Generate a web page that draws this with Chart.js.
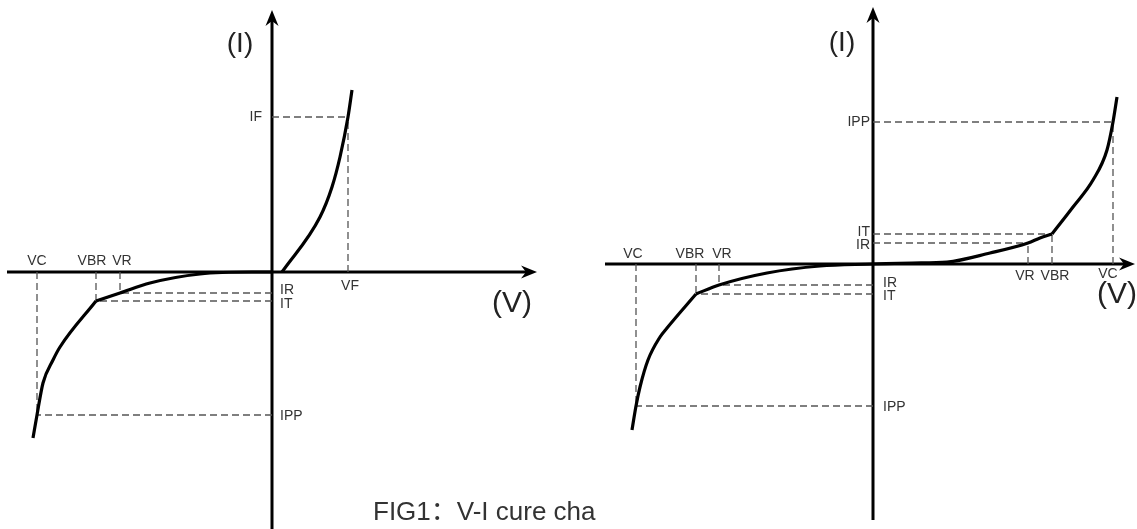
<!DOCTYPE html>
<html>
<head>
<meta charset="utf-8">
<script src="https://cdn.jsdelivr.net/npm/chart.js@4"></script>
<style>
  html, body { margin: 0; padding: 0; background: #fff; }
  #wrap { position: relative; width: 1137px; height: 529px; overflow: hidden; }
  canvas { position: absolute; top: 0; }
  #left { left: 0; }
  #right { left: 568px; }
  #caption {
    position: absolute; left: 373px; top: 498px;
    font: 26px/26px "Liberation Sans", Arial, "Noto Sans CJK SC", sans-serif;
    color: #333; white-space: nowrap;
  }
</style>
</head>
<body>
<div id="wrap">
  <canvas id="left" width="568" height="529"></canvas>
  <canvas id="right" width="569" height="529"></canvas>
  <div id="caption">FIG1：V-I cure cha</div>
</div>
<script>
// values, arbitrary units (V across, I up)

// left: unidirectional
const L_VF = 1.52, L_IF = 3.1;
const L_VC = -4.7, L_IPP = -2.86;
const L_VBR = -3.52, L_IT = -0.58;
const L_VR = -3.04, L_IR = -0.42;

const leftForward = [[0.2, 0], [0.96, 1.1], [1.2, 1.7], [1.36, 2.3], [L_VF, L_IF], [1.6, 3.64]];
const leftLeak = [[L_VBR, L_IT], [L_VR, L_IR], [-2.44, -0.22], [-1.44, -0.04], [-0.4, 0], [0, 0]];
const leftBreak = [[-4.78, -3.32], [L_VC, L_IPP], [-4.58, -2.22], [-4.38, -1.76], [-4.24, -1.5], [L_VBR, L_IT]];
const leftMarks = [[L_VF, L_IF], [L_VC, L_IPP], [L_VBR, L_IT], [L_VR, L_IR]];

// right: bidirectional
const R_VC = 4.8, R_IPP = 2.84;
const R_VBR = 3.58, R_IT = 0.6;
const R_VR = 3.1, R_IR = 0.42;
const R_NVC = -4.74, R_NIPP = -2.84;
const R_NVBR = -3.54, R_NIT = -0.6;
const R_NVR = -3.08, R_NIR = -0.42;

const rightPosLeak = [[0, 0], [0.78, 0.02], [1.48, 0.04], [2.34, 0.22], [R_VR, R_IR], [3.34, 0.52], [R_VBR, R_IT]];
const rightPosBreak = [[R_VBR, R_IT], [4.0, 1.14], [4.4, 1.68], [4.68, 2.28], [R_VC, R_IPP], [4.88, 3.34]];
const rightNegLeak = [[R_NVBR, R_NIT], [R_NVR, R_NIR], [-2.12, -0.18], [-1.06, -0.04], [0, 0]];
const rightNegBreak = [[-4.82, -3.32], [R_NVC, R_NIPP], [-4.66, -2.46], [-4.5, -1.92], [-4.26, -1.46], [-4.12, -1.28], [R_NVBR, R_NIT]];
const rightMarks = [[R_VC, R_IPP], [R_VBR, R_IT], [R_VR, R_IR], [R_NVC, R_NIPP], [R_NVBR, R_NIT], [R_NVR, R_NIR]];

const FONT = '"Liberation Sans", Arial, sans-serif';

function pts(list) {
  return list.map(p => ({ x: p[0], y: p[1] }));
}

function curve(list) {
  return {
    data: pts(list), showLine: true, pointRadius: 0, borderColor: '#000',
    borderWidth: 3.2, cubicInterpolationMode: 'monotone', fill: false, clip: false
  };
}

function dashed(a, b) {
  return {
    data: pts([a, b]), showLine: true, pointRadius: 0, borderColor: '#555',
    borderWidth: 1.3, borderDash: [7, 4], fill: false, clip: false
  };
}

function guides(marks) {
  const out = [];
  marks.forEach(m => {
    out.push(dashed([m[0], 0], m));
    out.push(dashed([0, m[1]], m));
  });
  return out;
}

function arrow(ctx, x, y, ang) {
  ctx.save();
  ctx.translate(x, y);
  ctx.rotate(ang);
  ctx.beginPath();
  ctx.moveTo(0, 0);
  ctx.lineTo(-16, -6.5);
  ctx.lineTo(-11, 0);
  ctx.lineTo(-16, 6.5);
  ctx.closePath();
  ctx.fill();
  ctx.restore();
}

const sketch = {
  id: 'sketch',
  beforeDatasetsDraw(chart, args, opts) {
    const { ctx, scales: { x, y } } = chart;
    const ox = x.getPixelForValue(0), oy = y.getPixelForValue(0);
    ctx.save();
    ctx.strokeStyle = '#000';
    ctx.fillStyle = '#000';
    ctx.lineWidth = 3;
    const hx0 = x.getPixelForValue(opts.h[0]), hx1 = x.getPixelForValue(opts.h[1]);
    ctx.beginPath(); ctx.moveTo(hx0, oy); ctx.lineTo(hx1 - 10, oy); ctx.stroke();
    arrow(ctx, hx1, oy, 0);
    const vy0 = y.getPixelForValue(opts.v[0]), vy1 = y.getPixelForValue(opts.v[1]);
    ctx.beginPath(); ctx.moveTo(ox, vy0); ctx.lineTo(ox, vy1 + 10); ctx.stroke();
    arrow(ctx, ox, vy1, -Math.PI / 2);
    ctx.restore();
  },
  afterDatasetsDraw(chart, args, opts) {
    const { ctx, scales: { x, y } } = chart;
    ctx.save();
    ctx.textBaseline = 'middle';
    opts.labels.forEach(l => {
      const [t, xv, yv, dx, dy, align, size] = l;
      ctx.font = (size || 14) + 'px ' + FONT;
      ctx.fillStyle = size ? '#222' : '#333';
      ctx.textAlign = align || 'center';
      ctx.fillText(t, x.getPixelForValue(xv) + dx, y.getPixelForValue(yv) + dy);
    });
    ctx.restore();
  }
};

function make(id, datasets, range, axes, labels) {
  new Chart(document.getElementById(id), {
    type: 'scatter',
    data: { datasets },
    options: {
      responsive: false,
      devicePixelRatio: 1,
      animation: false,
      events: [],
      layout: { padding: 0 },
      scales: {
        x: { type: 'linear', display: false, min: range[0], max: range[1] },
        y: { type: 'linear', display: false, min: range[2], max: range[3] }
      },
      plugins: {
        legend: { display: false },
        tooltip: { enabled: false },
        sketch: { h: axes[0], v: axes[1], labels }
      }
    },
    plugins: [sketch]
  });
}

make('left',
  [curve(leftForward), curve(leftLeak), curve(leftBreak)].concat(guides(leftMarks)),
  [-5.44, 5.92, -5.14, 5.44],
  [[-5.3, 5.3], [-5.2, 5.24]],
  [
    ['VC', L_VC, 0, 0, -11], ['VBR', L_VBR, 0, -4, -11], ['VR', L_VR, 0, 2, -11],
    ['VF', L_VF, 0, 2, 14],
    ['IR', 0, L_IR, 8, -3, 'left'], ['IT', 0, L_IT, 8, 3, 'left'], ['IPP', 0, L_IPP, 8, 1, 'left'],
    ['IF', 0, L_IF, -10, 0, 'right'],
    ['(I)', 0, 4.56, -32, 0, 'center', 28], ['(V)', 4.8, 0, 0, 32, 'center', 30]
  ]);

make('right',
  [curve(rightPosLeak), curve(rightPosBreak), curve(rightNegLeak), curve(rightNegBreak)].concat(guides(rightMarks)),
  [-6.1, 5.28, -5.3, 5.28],
  [[-5.36, 5.24], [-5.12, 5.14]],
  [
    ['VC', R_NVC, 0, -3, -10], ['VBR', R_NVBR, 0, -6, -10], ['VR', R_NVR, 0, 3, -10],
    ['IR', 0, R_NIR, 10, -2, 'left'], ['IT', 0, R_NIT, 10, 2, 'left'], ['IPP', 0, R_NIPP, 10, 1, 'left'],
    ['VR', R_VR, 0, -3, 12], ['VBR', R_VBR, 0, 3, 12], ['VC', R_VC, 0, -5, 10],
    ['IT', 0, R_IT, -3, -2, 'right'], ['IR', 0, R_IR, -3, 2, 'right'], ['IPP', 0, R_IPP, -3, 0, 'right'],
    ['(I)', 0, 4.42, -31, 0, 'center', 28], ['(V)', 4.88, 0, 0, 31, 'center', 30]
  ]);
</script>
</body>
</html>
